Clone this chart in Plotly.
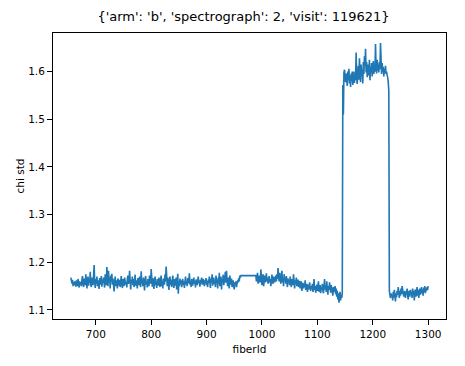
import plotly.graph_objects as go

# fiberIds: two contiguous blocks (fibers 963-988 absent)
fiber_block1 = list(range(655, 963))
fiber_block2 = list(range(989, 1301))

# chi std, fibers 655-962
chi_a = [
    1.168, 1.160, 1.155, 1.163, 1.150, 1.158, 1.152, 1.160, 1.156, 1.149, 1.162, 1.157, 1.150, 1.165, 1.154, 1.147, 1.160, 1.153, 1.158, 1.150,
    1.163, 1.171, 1.155, 1.148, 1.166, 1.159, 1.152, 1.175, 1.158, 1.145, 1.162, 1.170, 1.151, 1.164, 1.157, 1.180, 1.153, 1.148, 1.168, 1.160,
    1.152, 1.172, 1.194, 1.158, 1.146, 1.165, 1.155, 1.170, 1.150, 1.162, 1.158, 1.144, 1.167, 1.160, 1.153, 1.171, 1.149, 1.163, 1.157, 1.168,
    1.155, 1.147, 1.175, 1.160, 1.152, 1.190, 1.163, 1.150, 1.182, 1.158, 1.168, 1.145, 1.172, 1.160, 1.176, 1.153, 1.166, 1.148, 1.139, 1.158,
    1.170, 1.150, 1.162, 1.156, 1.145, 1.166, 1.158, 1.151, 1.163, 1.148, 1.160, 1.171, 1.154, 1.146, 1.165, 1.157, 1.150, 1.168, 1.161, 1.153,
    1.159, 1.147, 1.166, 1.172, 1.155, 1.160, 1.182, 1.150, 1.143, 1.163, 1.157, 1.170, 1.152, 1.165, 1.148, 1.158, 1.174, 1.151, 1.162, 1.156,
    1.145, 1.167, 1.160, 1.152, 1.170, 1.158, 1.148, 1.181, 1.155, 1.163, 1.150, 1.168, 1.157, 1.141, 1.162, 1.171, 1.153, 1.160, 1.147, 1.165,
    1.158, 1.150, 1.172, 1.161, 1.155, 1.186, 1.163, 1.149, 1.167, 1.156, 1.144, 1.162, 1.170, 1.152, 1.159, 1.146, 1.165, 1.157, 1.151, 1.168,
    1.155, 1.148, 1.163, 1.172, 1.150, 1.160, 1.145, 1.166, 1.158, 1.153, 1.175, 1.160, 1.191, 1.165, 1.150, 1.168, 1.155, 1.142, 1.161, 1.170,
    1.152, 1.163, 1.148, 1.158, 1.172, 1.155, 1.146, 1.165, 1.160, 1.151, 1.168, 1.143, 1.157, 1.176, 1.134, 1.160, 1.150, 1.166, 1.155, 1.162,
    1.148, 1.158, 1.165, 1.152, 1.160, 1.146, 1.163, 1.170, 1.154, 1.159, 1.150, 1.167, 1.156, 1.161, 1.177, 1.153, 1.160, 1.148, 1.165, 1.157,
    1.151, 1.162, 1.168, 1.155, 1.160, 1.147, 1.164, 1.158, 1.152, 1.166, 1.170, 1.156, 1.161, 1.149, 1.163, 1.157, 1.168, 1.153, 1.160, 1.165,
    1.155, 1.150, 1.162, 1.158, 1.167, 1.152, 1.160, 1.148, 1.164, 1.157, 1.170, 1.153, 1.146, 1.166, 1.159, 1.175, 1.151, 1.162, 1.168, 1.155,
    1.160, 1.148, 1.172, 1.157, 1.163, 1.145, 1.168, 1.155, 1.178, 1.150, 1.162, 1.170, 1.143, 1.165, 1.158, 1.174, 1.152, 1.160, 1.166, 1.180,
    1.157, 1.182, 1.163, 1.150, 1.168, 1.158, 1.145, 1.172, 1.160, 1.153, 1.166, 1.148, 1.156, 1.162, 1.150, 1.143, 1.158, 1.153, 1.160, 1.148,
    1.155, 1.162, 1.158, 1.166, 1.160, 1.172, 1.168, 1.172,
]

# chi std, fibers 989-1145
chi_b = [
    1.172, 1.160, 1.168, 1.178, 1.155, 1.165, 1.172, 1.160, 1.158, 1.185, 1.168, 1.152, 1.163, 1.175, 1.150, 1.166, 1.172, 1.158, 1.163, 1.177,
    1.160, 1.168, 1.155, 1.163, 1.171, 1.158, 1.165, 1.150, 1.168, 1.174, 1.160, 1.155, 1.170, 1.163, 1.158, 1.166, 1.172, 1.160, 1.175, 1.165,
    1.188, 1.172, 1.160, 1.178, 1.163, 1.155, 1.170, 1.182, 1.158, 1.165, 1.150, 1.175, 1.162, 1.168, 1.155, 1.171, 1.160, 1.148, 1.166, 1.158,
    1.163, 1.152, 1.170, 1.157, 1.148, 1.165, 1.160, 1.152, 1.175, 1.158, 1.145, 1.162, 1.155, 1.168, 1.150, 1.158, 1.164, 1.148, 1.156, 1.161,
    1.145, 1.153, 1.160, 1.140, 1.150, 1.157, 1.145, 1.155, 1.148, 1.162, 1.142, 1.150, 1.155, 1.138, 1.148, 1.153, 1.143, 1.158, 1.146, 1.140,
    1.150, 1.144, 1.155, 1.138, 1.147, 1.165, 1.142, 1.150, 1.136, 1.145, 1.153, 1.140, 1.148, 1.160, 1.138, 1.145, 1.152, 1.135, 1.147, 1.142,
    1.155, 1.140, 1.135, 1.148, 1.165, 1.143, 1.150, 1.138, 1.160, 1.145, 1.132, 1.150, 1.142, 1.158, 1.147, 1.136, 1.152, 1.145, 1.140, 1.130,
    1.148, 1.138, 1.143, 1.150, 1.133, 1.145, 1.128, 1.140, 1.122, 1.135, 1.115, 1.130, 1.138, 1.120, 1.132, 1.125, 1.135,
]

# chi std, fibers 1146-1229 (high plateau)
chi_c = [
    1.572, 1.510, 1.598, 1.604, 1.590, 1.578, 1.596, 1.585, 1.570, 1.600, 1.582, 1.606, 1.575, 1.592, 1.568, 1.596, 1.580, 1.600, 1.572, 1.590,
    1.600, 1.576, 1.592, 1.582, 1.640, 1.588, 1.574, 1.598, 1.612, 1.583, 1.628, 1.595, 1.578, 1.615, 1.590, 1.605, 1.575, 1.620, 1.595, 1.632,
    1.612, 1.648, 1.598, 1.620, 1.588, 1.615, 1.600, 1.592, 1.625, 1.582, 1.610, 1.598, 1.618, 1.590, 1.606, 1.622, 1.595, 1.612, 1.600, 1.658,
    1.610, 1.596, 1.625, 1.602, 1.615, 1.598, 1.620, 1.605, 1.660, 1.612, 1.595, 1.618, 1.600, 1.610, 1.590, 1.606, 1.598, 1.612, 1.595, 1.600,
    1.592, 1.588, 1.578, 1.560,
]

# chi std, fibers 1230-1300
chi_d = [
    1.140, 1.130, 1.125, 1.135, 1.128, 1.132, 1.120, 1.138, 1.126, 1.142, 1.130, 1.118, 1.135, 1.127, 1.140, 1.132, 1.148, 1.135, 1.125, 1.140,
    1.130, 1.145, 1.133, 1.150, 1.138, 1.142, 1.128, 1.135, 1.140, 1.125, 1.138, 1.132, 1.145, 1.130, 1.122, 1.140, 1.135, 1.128, 1.142, 1.133,
    1.138, 1.125, 1.145, 1.132, 1.140, 1.120, 1.135, 1.143, 1.128, 1.138, 1.148, 1.130, 1.142, 1.125, 1.138, 1.145, 1.132, 1.140, 1.148, 1.135,
    1.143, 1.130, 1.147, 1.138, 1.150, 1.135, 1.145, 1.140, 1.148, 1.142, 1.150,
]

x_ticks = [700, 800, 900, 1000, 1100, 1200, 1300]
y_ticks = [1.1, 1.2, 1.3, 1.4, 1.5, 1.6]

title_text = "{'arm': 'b', 'spectrograph': 2, 'visit': 119621}"

fiber_ids = fiber_block1 + fiber_block2
chi_std = chi_a + chi_b + chi_c + chi_d

fig = go.Figure()
fig.add_trace(go.Scatter(
    x=fiber_ids, y=chi_std, mode="lines",
    line=dict(color="#1f77b4", width=1.6),
    showlegend=False, hoverinfo="x+y",
))

font_family = "DejaVu Sans"
axis_common = dict(
    showline=True, mirror=True, linecolor="black", linewidth=1,
    ticks="outside", ticklen=5, tickwidth=1, tickcolor="black",
    showgrid=False, zeroline=False,
    tickfont=dict(family=font_family, size=10.5, color="black"),
)

# the page body has an 8px default margin, so the figure is sized to fit
W, H = 457, 358
fig.update_layout(
    width=W, height=H,
    margin=dict(l=41, r=19, t=25, b=43),
    paper_bgcolor="white", plot_bgcolor="white",
    title=dict(text=title_text, x=235.5 / W, xanchor="center",
               y=1 - 8 / H, yanchor="middle", yref="container",
               pad=dict(t=0, b=0, l=0, r=0),
               font=dict(family=font_family, size=13, color="black")),
    xaxis=dict(range=[622.75, 1332.25], tickvals=x_ticks,
               title=dict(text="fiberId", standoff=7,
                          font=dict(family=font_family, size=10.5, color="black")),
               **axis_common),
    yaxis=dict(range=[1.081, 1.681], tickvals=y_ticks, tickformat=".1f",
               title=dict(text="chi std", standoff=1,
                          font=dict(family=font_family, size=10.5, color="black")),
               **axis_common),
)

fig.write_html("out.html")
